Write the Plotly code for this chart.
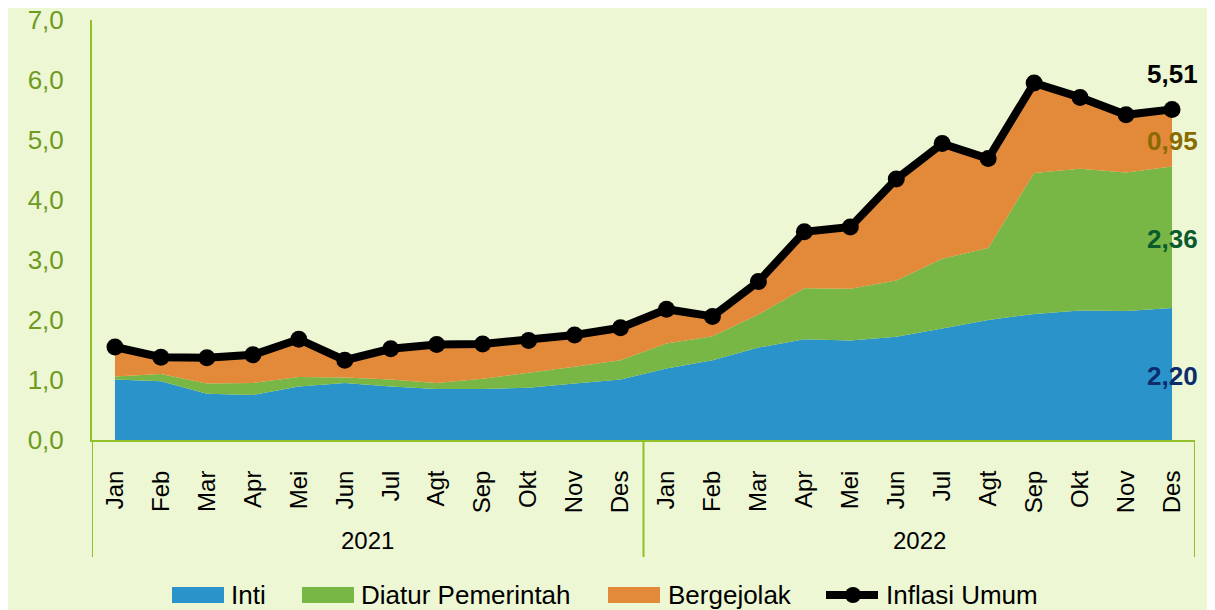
import plotly.graph_objects as go

# ---------------- data ----------------
months = ["Jan", "Feb", "Mar", "Apr", "Mei", "Jun", "Jul", "Agt", "Sep", "Okt", "Nov", "Des"] * 2
years = ["2021", "2022"]

inti = [1.01, 0.98, 0.77, 0.75, 0.89, 0.95, 0.89, 0.85, 0.85, 0.87, 0.94, 1.01,
        1.19, 1.33, 1.54, 1.68, 1.66, 1.72, 1.86, 2.00, 2.10, 2.16, 2.15, 2.20]
diatur = [0.05, 0.12, 0.17, 0.20, 0.16, 0.09, 0.12, 0.10, 0.17, 0.25, 0.28, 0.32,
          0.42, 0.40, 0.55, 0.85, 0.86, 0.94, 1.16, 1.20, 2.35, 2.36, 2.31, 2.36]
bergejolak = [0.49, 0.28, 0.43, 0.47, 0.63, 0.29, 0.51, 0.64, 0.58, 0.54, 0.53, 0.54,
              0.57, 0.33, 0.55, 0.94, 1.03, 1.69, 1.92, 1.49, 1.50, 1.19, 0.96, 0.95]
inflasi_umum = [1.55, 1.38, 1.37, 1.42, 1.68, 1.33, 1.52, 1.59, 1.60, 1.66, 1.75, 1.87,
                2.18, 2.06, 2.64, 3.47, 3.55, 4.35, 4.94, 4.69, 5.95, 5.71, 5.42, 5.51]

series_names = ["Inti", "Diatur Pemerintah", "Bergejolak", "Inflasi Umum"]

# ---------------- geometry (page pixels) ----------------
OFF = 8                      # default body margin of the html page
PAGE_W, PAGE_H = 1215, 610
W, H = PAGE_W - OFF, PAGE_H - OFF
PLOT_L, PLOT_R, PLOT_T, PLOT_B = 92, 1195, 20, 440   # page coords of plot area
ML, MT = PLOT_L - OFF, PLOT_T - OFF
MR, MB = W - (PLOT_R - OFF), H - (PLOT_B - OFF)
PW, PH = PLOT_R - PLOT_L, PLOT_B - PLOT_T

BG = "#edf7d4"
AXIS = "#8fc02a"
TICK = "#6e9a1f"
C_INTI = "#2a94ca"
C_DIAT = "#78b646"
C_BERG = "#e2893a"
FONT = "Liberation Sans, Arial, sans-serif"


def px_x(px):
    return (px - PLOT_L) / PW


def px_y(py):
    return (PLOT_B - py) / PH


x = list(range(len(months)))

fig = go.Figure()
for vals, name, col in [(inti, series_names[0], C_INTI),
                        (diatur, series_names[1], C_DIAT),
                        (bergejolak, series_names[2], C_BERG)]:
    fig.add_trace(go.Scatter(x=x, y=vals, name=name, stackgroup="s", mode="none",
                             fillcolor=col, line=dict(width=0), showlegend=False))

fig.add_trace(go.Scatter(x=x, y=inflasi_umum, name=series_names[3], mode="lines+markers",
                         line=dict(color="black", width=8),
                         marker=dict(color="black", size=17), showlegend=False))

shapes = []
annotations = []

# group dividers and year labels
n_per_year = 12
for i in range(len(years) + 1):
    xv = i * n_per_year - 0.5
    shapes.append(dict(type="line", xref="x", yref="paper", x0=xv, x1=xv,
                       y0=0, y1=px_y(557), line=dict(color=AXIS, width=2)))
for i, yr in enumerate(years):
    annotations.append(dict(xref="x", yref="paper", x=i * n_per_year + (n_per_year - 1) / 2,
                            y=px_y(540), text=yr, showarrow=False,
                            font=dict(size=24, color="black", family=FONT),
                            xanchor="center", yanchor="middle"))

# end labels
last = len(x) - 1


def fmt(v):
    return f"{v:.2f}".replace(".", ",")


end_labels = [
    (inflasi_umum[last], 74, "black"),
    (bergejolak[last], 141, "#8a6a00"),
    (diatur[last], 239, "#0b5a2c"),
    (inti[last], 376, "#0c2c6e"),
]
for v, py, col in end_labels:
    annotations.append(dict(xref="x", yref="paper", x=last, y=px_y(py), text=f"<b>{fmt(v)}</b>",
                            showarrow=False, xanchor="center", yanchor="middle",
                            font=dict(size=26, color=col, family=FONT)))

# manual legend
leg_y = 595
swatches = [(172, 224, C_INTI, 229, series_names[0]),
            (302, 354, C_DIAT, 359, series_names[1]),
            (608, 660, C_BERG, 666, series_names[2])]
for x0, x1, col, tx, name in swatches:
    shapes.append(dict(type="rect", xref="paper", yref="paper",
                       x0=px_x(x0), x1=px_x(x1), y0=px_y(603), y1=px_y(587),
                       fillcolor=col, line=dict(width=0)))
    annotations.append(dict(xref="paper", yref="paper", x=px_x(tx), y=px_y(leg_y), text=name,
                            showarrow=False, xanchor="left", yanchor="middle",
                            font=dict(size=26, color="black", family=FONT)))
shapes.append(dict(type="line", xref="paper", yref="paper", x0=px_x(826), x1=px_x(878),
                   y0=px_y(leg_y), y1=px_y(leg_y), line=dict(color="black", width=8)))
shapes.append(dict(type="circle", xref="paper", yref="paper", x0=px_x(845), x1=px_x(861),
                   y0=px_y(603), y1=px_y(587), fillcolor="black", line=dict(width=0)))
annotations.append(dict(xref="paper", yref="paper", x=px_x(884), y=px_y(leg_y),
                        text=series_names[3], showarrow=False, xanchor="left", yanchor="middle",
                        font=dict(size=26, color="black", family=FONT)))

fig.update_layout(
    width=W, height=H,
    margin=dict(l=ML, r=MR, t=MT, b=MB, pad=0, autoexpand=False),
    paper_bgcolor=BG, plot_bgcolor=BG,
    separators=",.",
    showlegend=False,
    shapes=shapes, annotations=annotations,
    font=dict(family=FONT, color="black"),
)
fig.update_xaxes(range=[-0.5, len(x) - 0.5], tickvals=x, ticktext=months, tickangle=-90,
                 showgrid=False, zeroline=False, showline=True, linecolor=AXIS, linewidth=2,
                 ticks="", ticklabelstandoff=19, ticklabeloverflow="allow", automargin=False,
                 tickfont=dict(size=24, color="black", family=FONT))
fig.update_yaxes(range=[0, 7], tickvals=list(range(8)), tickformat=".1f",
                 showgrid=False, zeroline=False, showline=True, linecolor=AXIS, linewidth=2,
                 ticks="", ticklabelstandoff=21, ticklabeloverflow="allow", automargin=False,
                 tickfont=dict(size=26, color=TICK, family=FONT))

fig.write_html("out.html")
